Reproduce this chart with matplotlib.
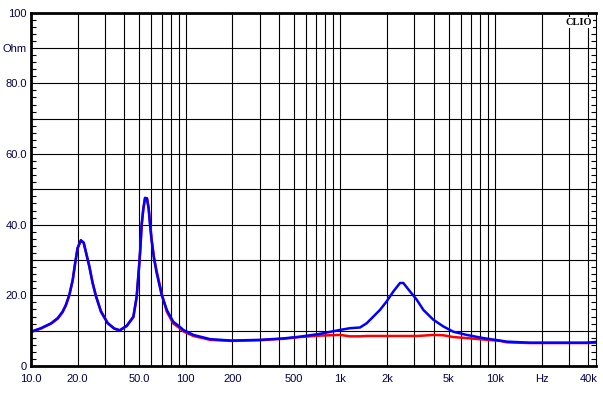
import matplotlib
matplotlib.use("Agg")
import matplotlib.pyplot as plt
from matplotlib.ticker import FixedLocator, NullFormatter

# ---- data ----
freq = [10, 11.6, 13.5, 14.9, 16.0, 16.8, 17.7, 18.6, 19.3, 20.0, 21.0, 21.9,
        22.7, 23.8, 25.0, 26.3, 28.3, 31.3, 34.5, 37.5, 41.6, 45.9, 48.2, 50.1,
        51.0, 51.9, 53.2, 54.6, 56.2, 57.6, 58.8, 60.2, 62.3, 64.8, 70, 75.6,
        83.2, 91.6, 96.6, 112, 144, 198, 301, 426, 548, 738, 993, 1153, 1339,
        1479, 1634, 1804, 1992, 2200, 2428, 2551, 2818, 3111, 3435, 3987, 4627,
        5370, 6545, 8394, 10770, 11900, 16800, 38900, 44900]
blue = [9.7, 10.7, 12.1, 13.6, 15.4, 17.3, 20.2, 24.4, 29.2, 33.4, 35.6, 34.9,
        32.0, 28.2, 23.5, 19.7, 15.4, 12.1, 10.6, 10.1, 11.4, 14.0, 19.7, 29.0,
        33.9, 40.0, 44.5, 47.6, 47.4, 44.5, 40.0, 35.5, 30.5, 26.5, 20.0, 15.8,
        12.5, 11.1, 10.2, 8.8, 7.6, 7.2, 7.4, 7.8, 8.3, 9.1, 10.2, 10.7, 10.9,
        12.1, 14.0, 15.9, 18.3, 21.1, 23.5, 23.5, 21.1, 18.8, 15.9, 13.1, 11.2,
        9.7, 8.8, 7.9, 7.2, 6.9, 6.6, 6.6, 6.8]
red = [9.6, 10.6, 12.0, 13.4, 15.2, 17.1, 20.0, 24.2, 29.0, 33.3, 35.5, 34.9,
       32.1, 28.4, 23.7, 19.9, 15.6, 12.2, 10.6, 10.1, 11.3, 13.8, 19.4, 28.7,
       33.6, 39.8, 44.3, 47.5, 47.5, 44.8, 40.5, 36.0, 31.0, 27.0, 20.5, 15.3,
       12.0, 10.7, 9.8, 8.5, 7.4, 7.1, 7.3, 7.7, 8.2, 8.6, 8.8, 8.4, 8.4,
       8.5, 8.5, 8.5, 8.5, 8.5, 8.5, 8.5, 8.5, 8.5, 8.6, 8.8, 8.7,
       8.2, 7.9, 7.5, 7.1, 6.7, 6.5, 6.5, 6.6]

x_ticks = [10, 20, 50, 100, 200, 500, 1000, 2000, 5000, 10000, 20000, 40000]
x_labels = ["10.0", "20.0", "50.0", "100", "200", "500", "1k", "2k", "5k", "10k", "Hz", "40k"]
x_grid = [10, 20, 30, 40, 50, 60, 70, 80, 90, 100, 200, 300, 400, 500, 600, 700,
          800, 900, 1000, 2000, 3000, 4000, 5000, 6000, 7000, 8000, 9000, 10000,
          20000, 30000, 40000]
y_ticks = [0, 20, 40, 60, 80, 90, 100]
y_labels = ["0", "20.0", "40.0", "60.0", "80.0", "Ohm", "100"]
y_grid = [10, 20, 30, 40, 50, 60, 70, 80, 90]

plt.rcParams['font.family'] = ['Liberation Sans', 'DejaVu Sans']

fig = plt.figure(figsize=(6.03, 3.94), dpi=100)
ax = fig.add_axes([31 / 603, 1 - 366 / 394, (596 - 31) / 603, (366 - 12.7) / 394])
ax.set_xscale('log')
ax.set_xlim(10, 44900)
ax.set_ylim(0, 100)

for g in x_grid:
    ax.axvline(g, color='black', lw=0.8, zorder=1)
for g in y_grid:
    ax.axhline(g, color='black', lw=0.8, zorder=1)

ax.plot(freq, red, color='#ff0000', lw=1.8, zorder=3)
ax.plot(freq, blue, color='#0000ff', lw=1.8, zorder=4)

ax.xaxis.set_major_locator(FixedLocator(x_ticks))
ax.set_xticklabels(x_labels)
ax.xaxis.set_minor_locator(FixedLocator([]))
ax.xaxis.set_minor_formatter(NullFormatter())
ax.tick_params(axis='x', which='both', length=0, pad=6, labelsize=8, labelcolor='#000050')

ax.yaxis.set_major_locator(FixedLocator(y_ticks))
ax.set_yticklabels(y_labels)
ax.yaxis.set_minor_locator(FixedLocator(list(range(0, 101, 2))))
ax.tick_params(axis='y', which='major', length=0, pad=3, labelsize=8, labelcolor='#000050')
ax.tick_params(axis='y', which='minor', direction='in', length=3.5, width=0.8,
               left=True, right=True, color='black')

for side in ['left', 'top', 'bottom']:
    ax.spines[side].set_linewidth(2.0)
ax.spines['right'].set_linewidth(0.8)
for s in ax.spines.values():
    s.set_zorder(5)

ax.text(0.993, 0.985, "CLIO", transform=ax.transAxes, ha='right', va='top',
        fontsize=7.5, fontweight='bold', family=['Liberation Serif', 'DejaVu Serif'],
        color='black', zorder=6,
        bbox=dict(facecolor='white', edgecolor='none', pad=0.5))

fig.savefig("out.png", dpi=100)
